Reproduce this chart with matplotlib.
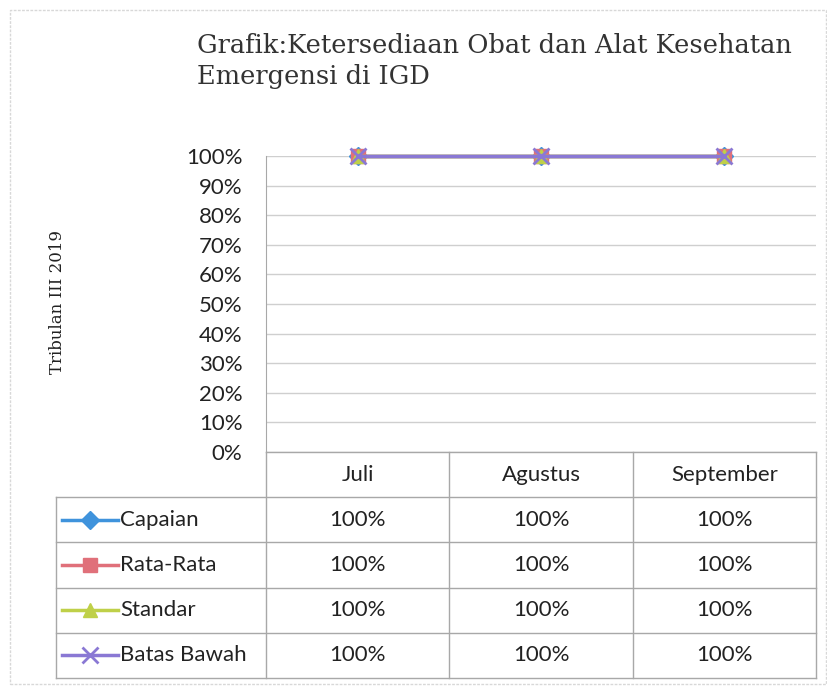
import matplotlib
matplotlib.use("Agg")
import matplotlib.pyplot as plt
from matplotlib.patches import Rectangle
from matplotlib.lines import Line2D
from matplotlib.ticker import PercentFormatter

# ---- data ----
months = ["Juli", "Agustus", "September"]
series_names = ["Capaian", "Rata-Rata", "Standar", "Batas Bawah"]
capaian = [1.00, 1.00, 1.00]
rata_rata = [1.00, 1.00, 1.00]
standar = [1.00, 1.00, 1.00]
batas_bawah = [1.00, 1.00, 1.00]
y_ticks = [0.0, 0.1, 0.2, 0.3, 0.4, 0.5, 0.6, 0.7, 0.8, 0.9, 1.0]
title_text = "Grafik:Ketersediaan Obat dan Alat Kesehatan\nEmergensi di IGD"
y_label = "Tribulan III 2019"

series_values = [capaian, rata_rata, standar, batas_bawah]
colors = ["#3f93dc", "#e0707a", "#bfd048", "#8a78d4"]
markers = ["D", "s", "^", "x"]
msizes = [9, 10, 10, 11]

W, H = 828, 687
fig = plt.figure(figsize=(W / 100, H / 100), dpi=100)


def fx(px):
    return px / W


def fy(py):
    return 1 - py / H


sans = ["Lato", "DejaVu Sans"]
serif = ["DejaVu Serif"]
txt_color = "#222222"
grid_c = "#cfcfcf"
border_c = "#a8a8a8"

# outer frame (scan border)
fig.patches.append(Rectangle((fx(10), fy(684)), fx(826) - fx(10), fy(10) - fy(684),
                             transform=fig.transFigure, fill=False,
                             edgecolor="#d8d8d8", lw=1, ls=(0, (2, 1))))

# ---- main chart ----
L, R, T, B = 266, 816, 156, 452
ax = fig.add_axes([fx(L), fy(B), fx(R) - fx(L), fy(T) - fy(B)])
xs = list(range(len(months)))
for vals, name, c, m, ms in zip(series_values, series_names, colors, markers, msizes):
    ax.plot(xs, vals, color=c, marker=m, ms=ms, lw=2.5, mew=2 if m == "x" else 1,
            clip_on=False, zorder=3, label=name)
ax.set_xlim(-0.5, len(months) - 0.5)
ax.set_ylim(0, 1)
ax.set_yticks(y_ticks)
ax.yaxis.set_major_formatter(PercentFormatter(1.0, decimals=0))
ax.set_xticks([])
ax.grid(axis="y", color=grid_c, lw=1)
ax.set_axisbelow(True)
for s in ["top", "right", "bottom"]:
    ax.spines[s].set_visible(False)
ax.spines["left"].set_color(border_c)
ax.tick_params(axis="y", length=0, pad=17, labelsize=16, labelcolor=txt_color)
for lab in ax.get_yticklabels():
    lab.set_fontfamily(sans)

fig.text(fx(58), fy(302), y_label, rotation=90, ha="center", va="center",
         family=serif, fontsize=12, color=txt_color)
fig.text(fx(197), fy(33), title_text, ha="left", va="top", family=serif,
         fontsize=18.5, color="#333333", linespacing=1.3)

# ---- data table ----
TL, TB = 56, 678
tax = fig.add_axes([fx(TL), fy(TB), fx(R) - fx(TL), fy(B) - fy(TB)])
ppu = (R - L) / len(months)
x_left = -0.5 - (L - TL) / ppu
x_right = len(months) - 0.5
nrows = len(series_names) + 1
tax.set_xlim(x_left, x_right)
tax.set_ylim(nrows, 0)
tax.axis("off")


def ux(px):
    return x_left + (px - TL) / ppu


lk = dict(color=border_c, lw=1, clip_on=False)
tax.plot([-0.5, x_right], [0, 0], **lk)
for r in range(1, nrows + 1):
    tax.plot([x_left, x_right], [r, r], **lk)
for i in range(len(months) + 1):
    tax.plot([i - 0.5, i - 0.5], [0, nrows], **lk)
tax.plot([x_left, x_left], [1, nrows], **lk)

for i, mth in enumerate(months):
    tax.text(i, 0.5, mth, ha="center", va="center", family=sans, fontsize=16,
             color=txt_color)

for r, (vals, name, c, m, ms) in enumerate(zip(series_values, series_names, colors,
                                              markers, msizes)):
    yy = r + 1.5
    tax.add_line(Line2D([ux(62), ux(118)], [yy, yy], color=c, lw=2.5))
    tax.add_line(Line2D([ux(90)], [yy], color=c, marker=m, ms=ms,
                        mew=2 if m == "x" else 1))
    tax.text(ux(120), yy, name, ha="left", va="center", family=sans, fontsize=16,
             color=txt_color)
    for i, v in enumerate(vals):
        tax.text(i, yy, f"{v * 100:.0f}%", ha="center", va="center", family=sans,
                 fontsize=16, color=txt_color)

fig.savefig("out.png", dpi=100, facecolor="white")
